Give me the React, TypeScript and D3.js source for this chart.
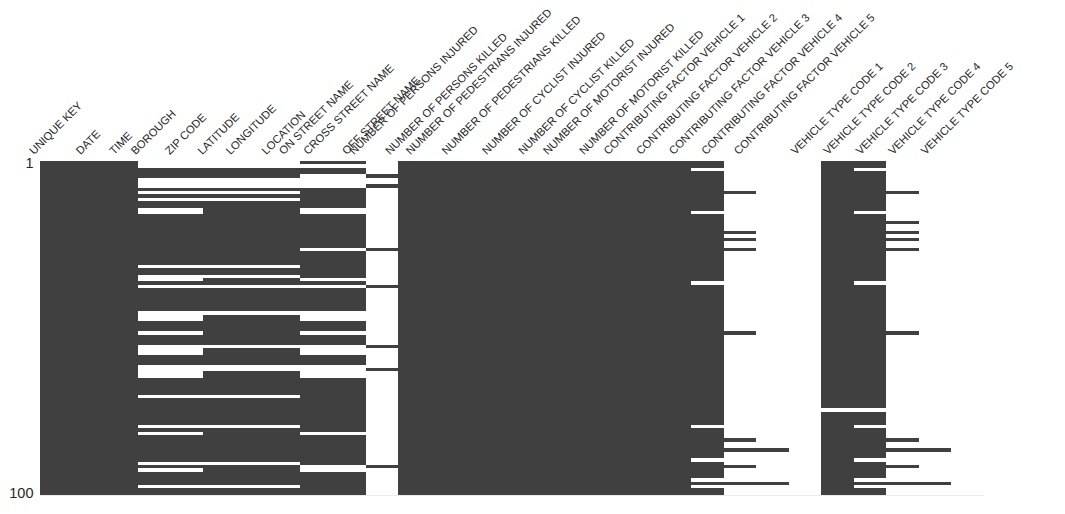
import React, { useMemo } from "react";
import * as d3 from "d3";

const columns = [
  "UNIQUE KEY", "DATE", "TIME", "BOROUGH", "ZIP CODE", "LATITUDE", "LONGITUDE", "LOCATION",
  "ON STREET NAME", "CROSS STREET NAME", "OFF STREET NAME",
  "NUMBER OF PERSONS INJURED", "NUMBER OF PERSONS KILLED",
  "NUMBER OF PEDESTRIANS INJURED", "NUMBER OF PEDESTRIANS KILLED",
  "NUMBER OF CYCLIST INJURED", "NUMBER OF CYCLIST KILLED",
  "NUMBER OF MOTORIST INJURED", "NUMBER OF MOTORIST KILLED",
  "CONTRIBUTING FACTOR VEHICLE 1", "CONTRIBUTING FACTOR VEHICLE 2", "CONTRIBUTING FACTOR VEHICLE 3",
  "CONTRIBUTING FACTOR VEHICLE 4", "CONTRIBUTING FACTOR VEHICLE 5",
  "VEHICLE TYPE CODE 1", "VEHICLE TYPE CODE 2", "VEHICLE TYPE CODE 3", "VEHICLE TYPE CODE 4", "VEHICLE TYPE CODE 5",
];

const rowCount = 100;
const rowTickLabels = [1, 100];

// rows (0-based) where BOROUGH, ZIP CODE, LATITUDE, LONGITUDE, LOCATION are all missing
const locationMissingRows = [0, 1, 5, 6, 7, 9, 11, 31, 34, 37, 45, 55, 61, 62, 70, 79, 90, 97];
// rows where only BOROUGH and ZIP CODE are missing
const boroughZipMissingRows = [14, 15, 35, 46, 47, 51, 56, 57, 63, 64, 81, 92];
// rows where ON STREET NAME and CROSS STREET NAME are missing
const streetMissingRows = [1, 4, 5, 6, 7, 14, 15, 26, 35, 37, 45, 46, 47, 51, 55, 56, 57, 61, 62, 63, 64, 81, 91, 92];
// rows where OFF STREET NAME is present
const offStreetPresentRows = [4, 7, 26, 37, 55, 62, 91];
const factor2MissingRows = [2, 15, 36, 79, 89, 95, 97];
const factor3PresentRows = [9, 21, 23, 26, 51, 83, 86, 91, 96];
const factor4PresentRows = [86, 96];
const factor5PresentRows: number[] = [];
const vehicle1MissingRows = [74];
const vehicle2MissingRows = [2, 15, 36, 74, 79, 89, 95, 97];
const vehicle3PresentRows = [9, 18, 21, 23, 26, 51, 83, 86, 91, 96];
const vehicle4PresentRows = [86, 96];
const vehicle5PresentRows: number[] = [];

function isPresent(col: string, r: number): boolean {
  switch (col) {
    case "BOROUGH":
    case "ZIP CODE":
      return !locationMissingRows.includes(r) && !boroughZipMissingRows.includes(r);
    case "LATITUDE":
    case "LONGITUDE":
    case "LOCATION":
      return !locationMissingRows.includes(r);
    case "ON STREET NAME":
    case "CROSS STREET NAME":
      return !streetMissingRows.includes(r);
    case "OFF STREET NAME":
      return offStreetPresentRows.includes(r);
    case "CONTRIBUTING FACTOR VEHICLE 2":
      return !factor2MissingRows.includes(r);
    case "CONTRIBUTING FACTOR VEHICLE 3":
      return factor3PresentRows.includes(r);
    case "CONTRIBUTING FACTOR VEHICLE 4":
      return factor4PresentRows.includes(r);
    case "CONTRIBUTING FACTOR VEHICLE 5":
      return factor5PresentRows.includes(r);
    case "VEHICLE TYPE CODE 1":
      return !vehicle1MissingRows.includes(r);
    case "VEHICLE TYPE CODE 2":
      return !vehicle2MissingRows.includes(r);
    case "VEHICLE TYPE CODE 3":
      return vehicle3PresentRows.includes(r);
    case "VEHICLE TYPE CODE 4":
      return vehicle4PresentRows.includes(r);
    case "VEHICLE TYPE CODE 5":
      return vehicle5PresentRows.includes(r);
    default:
      return true;
  }
}

const W = 1065;
const H = 514;
const FONT = "'Liberation Sans', Arial, sans-serif";
const LABEL_FS = 11.2;

export default function App() {
  const x = d3.scaleBand<string>().domain(columns).range([40, 984]);
  const y = d3.scaleLinear().domain([0, rowCount]).range([161, 495]);

  const runs = useMemo(() => {
    const out: { col: string; start: number; end: number }[] = [];
    columns.forEach((col) => {
      let start = -1;
      for (let r = 0; r <= rowCount; r++) {
        const p = r < rowCount && isPresent(col, r);
        if (p && start < 0) start = r;
        if (!p && start >= 0) {
          out.push({ col, start, end: r });
          start = -1;
        }
      }
    });
    return out;
  }, []);

  const widths = useMemo(() => {
    const ctx = document.createElement("canvas").getContext("2d");
    return columns.map((c) => {
      if (!ctx) return c.length * 7;
      ctx.font = `${LABEL_FS}px ${FONT}`;
      return ctx.measureText(c).width;
    });
  }, []);

  const a = 0.73 * LABEL_FS;
  const d = 0.21 * LABEL_FS;
  const bottom = 157;
  const k = Math.SQRT1_2;

  return (
    <svg width={W} height={H} style={{ position: "absolute", left: 0, top: 0, background: "#fff" }}>
      <g>
        {runs.map((r, i) => (
          <rect
            key={i}
            x={x(r.col)!}
            y={y(r.start)}
            width={x.bandwidth()}
            height={y(r.end) - y(r.start)}
            fill="#404040"
            shapeRendering="crispEdges"
          />
        ))}
      </g>
      <line x1={40} x2={984} y1={495.5} y2={495.5} stroke="#ececec" strokeWidth={1} />
      <g fontFamily={FONT} fontSize={LABEL_FS} fill="#262626">
        {columns.map((c, i) => {
          const L = widths[i];
          const cx = x(c)! + x.bandwidth() / 2;
          const px = cx - (k * (L + d - a)) / 2;
          const py = bottom - k * d;
          return (
            <text key={c} x={px} y={py} transform={`rotate(-45 ${px} ${py})`}>
              {c}
            </text>
          );
        })}
      </g>
      <g fontFamily={FONT} fontSize={14.5} fill="#262626" textAnchor="end">
        {rowTickLabels.map((t) => (
          <text key={t} x={33.5} y={y(t - 0.5)} dominantBaseline="central">
            {t}
          </text>
        ))}
      </g>
    </svg>
  );
}
